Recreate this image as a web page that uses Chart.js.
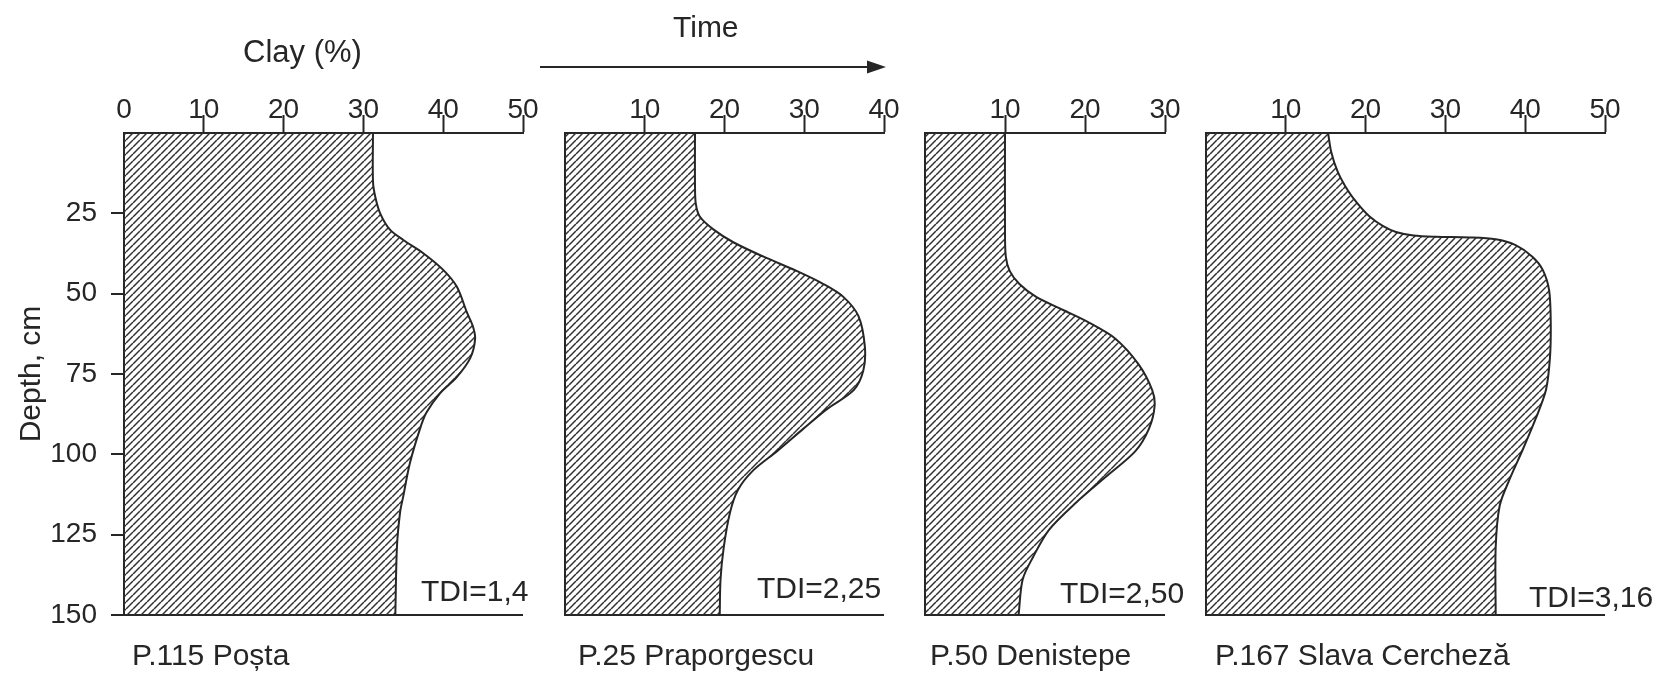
<!DOCTYPE html>
<html>
<head>
<meta charset="utf-8">
<script src="https://cdn.jsdelivr.net/npm/chart.js@4.4.0/dist/chart.umd.min.js"></script>
<style>
  body { margin: 0; background: #fff; width: 1671px; height: 676px; position: relative; overflow: hidden;
         font-family: "Liberation Sans", Arial, sans-serif; color: #262626; }
  .panel { position: absolute; top: 0; }
  .txt { position: absolute; white-space: nowrap; font-size: 30px; line-height: 30px; }
</style>
</head>
<body>
<div class="panel" style="left:0px"><canvas id="p1" width="553" height="676"></canvas></div>
<div class="panel" style="left:555px"><canvas id="p2" width="359" height="676"></canvas></div>
<div class="panel" style="left:915px"><canvas id="p3" width="280" height="676"></canvas></div>
<div class="panel" style="left:1196px"><canvas id="p4" width="439" height="676"></canvas></div>

<svg style="position:absolute;left:0;top:0" width="1671" height="676">
  <line x1="540" y1="67" x2="870" y2="67" stroke="#262626" stroke-width="2"/>
  <polygon points="886,67 867,60.5 867,73.5" fill="#262626"/>
</svg>
<div class="txt" style="left:243px;top:36px;font-size:31px;line-height:31px">Clay (%)</div>
<div class="txt" style="left:673px;top:12px">Time</div>

<script>
// clay (%) at the given depths (cm)
const depthPosta = [0, 15, 20, 25, 30, 33.3, 37.4, 42.6, 47.8, 56, 60, 64, 70, 76, 81, 87, 92, 103, 113, 118, 129, 150];
const clayPosta  = [31.2, 31.2, 31.5, 32.1, 33.3, 35.0, 37.5, 40.0, 41.7, 43.0, 43.7, 44.0, 43.4, 41.7, 39.6, 37.9, 37.1, 35.8, 35.0, 34.6, 34.2, 34.0];

const depthPraporgescu = [0, 16, 22, 26, 30, 34, 38.5, 43, 47, 51, 57, 66.5, 74, 80, 86, 92, 99, 105, 111, 118, 129, 139, 150];
const clayPraporgescu  = [16.3, 16.3, 16.4, 16.9, 18.6, 21.1, 24.9, 29.1, 32.4, 34.9, 36.8, 37.6, 37.4, 36.2, 32.8, 29.9, 26.6, 23.6, 21.7, 20.7, 19.9, 19.5, 19.4];

const depthDenistepe = [0, 30, 38.5, 43, 47, 51, 55, 59, 64, 72, 80, 85, 92, 99, 107, 115, 123.5, 132, 139, 150];
const clayDenistepe  = [10.0, 10.0, 10.1, 10.6, 11.8, 13.9, 17.2, 20.5, 23.8, 26.7, 28.4, 28.7, 28.0, 26.3, 22.6, 18.9, 15.5, 13.5, 12.2, 11.7];

const depthSlava = [0, 6, 12, 18, 22, 26, 29, 30.8, 31.9, 32.3, 32.5, 33.1, 34.9, 38.5, 42.6, 49, 59, 70, 80, 89, 98.5, 108, 116, 129, 150];
const claySlava  = [15.3, 15.7, 16.5, 17.8, 19.0, 20.5, 22.2, 23.8, 26.0, 28.8, 33.0, 36.3, 38.8, 40.9, 42.2, 43.0, 43.2, 43.1, 42.6, 41.3, 39.7, 38.0, 36.8, 36.3, 36.3];

const clayMax = [50, 40, 30, 50];
const depthTicks = [0, 25, 50, 75, 100, 125, 150];
const siteNames = ["P.115 Poșta", "P.25 Praporgescu", "P.50 Denistepe", "P.167 Slava Cercheză"];
const tdiLabels = ["TDI=1,4", "TDI=2,25", "TDI=2,50", "TDI=3,16"];

const ink = "#262626";
const tickFont = { family: "'Liberation Sans', Arial, sans-serif", size: 28, lineHeight: 1 };

// diagonal hatch used as the fill
function hatchPattern(ctx) {
  const tile = document.createElement("canvas");
  tile.width = 7; tile.height = 7;
  const g = tile.getContext("2d");
  g.strokeStyle = "#303030";
  g.lineWidth = 1.5;
  for (const dy of [-7, 0, 7]) {
    g.beginPath(); g.moveTo(0, 7 + dy); g.lineTo(7, dy); g.stroke();
  }
  return ctx.createPattern(tile, "repeat");
}

function drawProfile(id, depth, clay, xMax, first) {
  const canvas = document.getElementById(id);
  const ctx = canvas.getContext("2d");
  new Chart(ctx, {
    type: "line",
    data: {
      datasets: [{
        data: depth.map((d, i) => ({ x: clay[i], y: d })),
        borderColor: ink,
        borderWidth: 2,
        backgroundColor: hatchPattern(ctx),
        fill: { value: 0 },
        pointRadius: 0,
        tension: 0.3
      }]
    },
    options: {
      indexAxis: "y",
      responsive: false,
      animation: false,
      devicePixelRatio: 1,
      layout: { padding: { left: first ? 0 : 10, right: 30, top: 0, bottom: 61 } },
      plugins: { legend: { display: false }, tooltip: { enabled: false } },
      scales: {
        x: {
          type: "linear", position: "top", min: 0, max: xMax, z: 1,
          ticks: {
            stepSize: 10, autoSkip: false, maxRotation: 0, font: tickFont, color: ink, padding: -9,
            callback: v => (v === 0 && !first) ? "" : v
          },
          grid: {
            drawOnChartArea: false, tickLength: 18, tickWidth: 2,
            tickColor: c => (c.tick && c.tick.value === 0) ? "rgba(0,0,0,0)" : ink
          },
          border: { color: ink, width: 2 },
          afterFit: s => { s.height = 133; }
        },
        y: {
          type: "linear", reverse: true, min: 0, max: 150, z: 1,
          afterBuildTicks: s => { s.ticks = depthTicks.map(v => ({ value: v })); },
          ticks: {
            display: first, font: tickFont, color: ink, padding: 14,
            callback: v => v === 0 ? "" : v
          },
          grid: {
            drawOnChartArea: true, drawTicks: first, tickLength: 13, lineWidth: 2, tickWidth: 2,
            color: c => (c.tick && c.tick.value === 150) ? ink : "rgba(0,0,0,0)",
            tickColor: c => (c.tick && c.tick.value === 0) ? "rgba(0,0,0,0)" : ink
          },
          border: { color: ink, width: 2 },
          title: {
            display: first, text: "Depth, cm", color: ink,
            font: { family: "'Liberation Sans', Arial, sans-serif", size: 30, lineHeight: 1 },
            padding: { top: 17, bottom: 0 }
          },
          afterFit: s => { s.width = first ? 124 : 0; }
        }
      }
    }
  });
}

drawProfile("p1", depthPosta, clayPosta, clayMax[0], true);
drawProfile("p2", depthPraporgescu, clayPraporgescu, clayMax[1], false);
drawProfile("p3", depthDenistepe, clayDenistepe, clayMax[2], false);
drawProfile("p4", depthSlava, claySlava, clayMax[3], false);

// site names under each profile and the TDI value next to it
const siteLeft = [132, 578, 930, 1215];
const tdiPos = [[421, 576], [757, 573], [1060, 578], [1529, 582]];
siteNames.forEach((name, i) => {
  const d = document.createElement("div");
  d.className = "txt";
  d.style.left = siteLeft[i] + "px";
  d.style.top = "640px";
  d.textContent = name;
  document.body.appendChild(d);

  const t = document.createElement("div");
  t.className = "txt";
  t.style.left = tdiPos[i][0] + "px";
  t.style.top = tdiPos[i][1] + "px";
  t.textContent = tdiLabels[i];
  document.body.appendChild(t);
});
</script>
</body>
</html>
